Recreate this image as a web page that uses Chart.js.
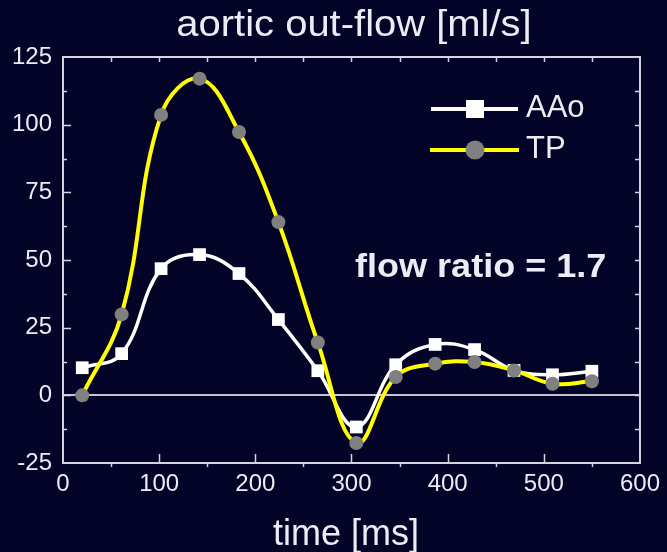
<!DOCTYPE html>
<html lang="en">
<head>
  <meta charset="UTF-8">
  <title>aortic out-flow</title>
  <script src="https://cdn.jsdelivr.net/npm/chart.js"></script>
  <style>
    html, body {
      margin: 0;
      padding: 0;
      background: #040428;
    }
    #flowChart {
      display: block;
    }
  </style>
</head>
<body>
  <canvas id="flowChart" width="667" height="552"></canvas>

  <script>
    // values
    const timeMs = [20, 61, 102, 142, 183, 224, 265, 305, 346, 387, 428, 469, 509, 550];
    const aaoFlow = [10.2, 15.4, 46.8, 52.0, 45.0, 28.0, 9.1, -11.7, 11.3, 18.8, 16.9, 9.2, 7.6, 8.9];
    const tpFlow = [0, 29.9, 103.6, 117.0, 97.3, 64.0, 19.5, -17.6, 6.8, 11.7, 12.3, 9.2, 4.3, 5.2];
    const seriesNames = ['AAo', 'TP'];
    const xTicks = [0, 100, 200, 300, 400, 500, 600];
    const yTicks = [-25, 0, 25, 50, 75, 100, 125];

    const textColor = '#ececf4';
    const frameColor = '#d4d4de';

    function toPoints(values) {
      return timeMs.map((t, i) => ({ x: t, y: values[i] }));
    }

    function stretchedText(ctx, text, x, y, font, sx, align) {
      ctx.save();
      ctx.font = font;
      ctx.fillStyle = textColor;
      ctx.textBaseline = 'alphabetic';
      const w = ctx.measureText(text).width * sx;
      let left = x;
      if (align === 'center') left = x - w / 2;
      ctx.translate(left, y);
      ctx.scale(sx, 1);
      ctx.textAlign = 'left';
      ctx.fillText(text, 0, 0);
      ctx.restore();
    }

    // frame, zero line, tick marks
    const framePlugin = {
      id: 'frame',
      beforeDatasetsDraw(chart) {
        const { ctx, chartArea: a, scales: { x, y } } = chart;
        ctx.save();
        ctx.strokeStyle = '#c4c4d0';
        ctx.lineWidth = 2;
        const y0 = Math.round(y.getPixelForValue(0));
        ctx.beginPath();
        ctx.moveTo(a.left, y0);
        ctx.lineTo(a.right, y0);
        ctx.stroke();
        ctx.restore();
      },
      afterDatasetsDraw(chart) {
        const { ctx, chartArea: a, scales: { x, y } } = chart;
        ctx.save();
        ctx.strokeStyle = frameColor;
        ctx.lineWidth = 2;
        ctx.strokeRect(a.left, a.top, a.right - a.left, a.bottom - a.top);

        ctx.lineWidth = 1.5;
        ctx.beginPath();
        for (let v = 50; v < 600; v += 50) {
          const px = Math.round(x.getPixelForValue(v)) + 0.5;
          const major = v % 100 === 0;
          ctx.moveTo(px, a.top);
          ctx.lineTo(px, a.top + 5);
          if (major) {
            ctx.moveTo(px, a.bottom);
            ctx.lineTo(px, a.bottom - 9);
          } else {
            ctx.moveTo(px, a.bottom);
            ctx.lineTo(px, a.bottom + 4);
          }
        }
        for (let v = -12.5; v < 125; v += 12.5) {
          const py = Math.round(y.getPixelForValue(v)) + 0.5;
          const major = v % 25 === 0;
          ctx.moveTo(a.left, py);
          ctx.lineTo(a.left + (major ? 8 : 4), py);
          ctx.moveTo(a.right, py);
          ctx.lineTo(a.right - 5, py);
        }
        ctx.stroke();
        ctx.restore();
      },
      afterDraw(chart) {
        const { ctx } = chart;
        stretchedText(ctx, 'aortic out-flow [ml/s]', 354, 36, '37px "Liberation Sans", Arial, sans-serif', 1.08, 'center');
        stretchedText(ctx, 'time [ms]', 346, 545, '36px "Liberation Sans", Arial, sans-serif', 1.0, 'center');
        stretchedText(ctx, 'flow ratio = 1.7', 355, 277, 'bold 34px "Liberation Sans", Arial, sans-serif', 1.06, 'left');

        // legend
        ctx.save();
        ctx.lineWidth = 4;
        ctx.strokeStyle = '#ffffff';
        ctx.beginPath();
        ctx.moveTo(431, 109);
        ctx.lineTo(518, 109);
        ctx.stroke();
        ctx.fillStyle = '#ffffff';
        ctx.fillRect(466, 100, 18, 18);
        ctx.strokeStyle = '#ffff00';
        ctx.beginPath();
        ctx.moveTo(430, 150);
        ctx.lineTo(519, 150);
        ctx.stroke();
        ctx.fillStyle = '#808080';
        ctx.beginPath();
        ctx.arc(475, 150, 9.5, 0, Math.PI * 2);
        ctx.fill();
        ctx.font = '31px "Liberation Sans", Arial, sans-serif';
        ctx.fillStyle = textColor;
        ctx.textAlign = 'left';
        ctx.textBaseline = 'alphabetic';
        ctx.fillText(seriesNames[0], 526, 117);
        ctx.fillText(seriesNames[1], 526, 158);
        ctx.restore();
      }
    };

    new Chart(document.getElementById('flowChart'), {
      type: 'line',
      data: {
        datasets: [
          {
            label: seriesNames[0],
            data: toPoints(aaoFlow),
            borderColor: '#ffffff',
            borderWidth: 3.5,
            tension: 0.4,
            pointStyle: 'rect',
            pointRadius: 9,
            pointBackgroundColor: '#ffffff',
            pointBorderWidth: 0,
            order: 2
          },
          {
            label: seriesNames[1],
            data: toPoints(tpFlow),
            borderColor: '#ffff00',
            borderWidth: 4,
            tension: 0.4,
            pointStyle: 'circle',
            pointRadius: 7,
            pointBackgroundColor: '#808080',
            pointBorderWidth: 0,
            order: 1
          }
        ]
      },
      options: {
        responsive: false,
        animation: false,
        devicePixelRatio: 1,
        layout: { padding: { top: 57, right: 23, left: 0, bottom: 0 } },
        plugins: {
          legend: { display: false },
          tooltip: { enabled: false }
        },
        scales: {
          x: {
            type: 'linear',
            min: 0,
            max: 600,
            afterFit: (scale) => { scale.height = 89; },
            afterBuildTicks: (scale) => { scale.ticks = xTicks.map(v => ({ value: v })); },
            grid: { display: false, drawTicks: false },
            border: { display: false },
            ticks: {
              color: textColor,
              padding: 7,
              maxRotation: 0,
              font: { family: '"Liberation Sans", Arial, sans-serif', size: 24 }
            }
          },
          y: {
            min: -25,
            max: 125,
            afterFit: (scale) => { scale.width = 63; },
            afterBuildTicks: (scale) => { scale.ticks = yTicks.map(v => ({ value: v })); },
            grid: { display: false, drawTicks: false },
            border: { display: false },
            ticks: {
              color: textColor,
              padding: 11,
              font: { family: '"Liberation Sans", Arial, sans-serif', size: 24 }
            }
          }
        }
      },
      plugins: [framePlugin]
    });
  </script>
</body>
</html>
